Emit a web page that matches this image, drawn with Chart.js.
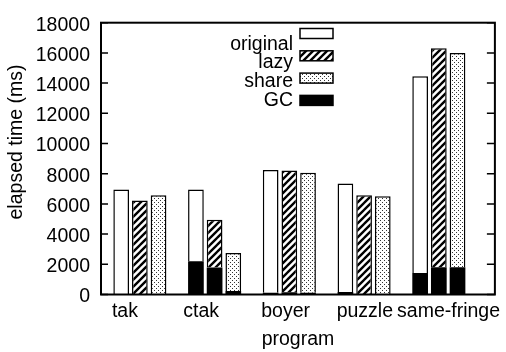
<!DOCTYPE html>
<html><head><meta charset="utf-8">
<script src="https://cdn.jsdelivr.net/npm/chart.js@4"></script>
<style>html,body{margin:0;padding:0;background:#fff}#wrap{width:506px;height:352px}</style>
</head><body><div id="wrap"><canvas id="c" width="506" height="352"></canvas></div>
<script>
// ---- data (ms) ----
const categories = ['tak', 'ctak', 'boyer', 'puzzle', 'same-fringe'];
const seriesNames = ['original', 'lazy', 'share'];
const originalTime = [6950, 6950, 8250, 7350, 14450];
const lazyTime     = [6230, 4950, 8210, 6570, 16300];
const shareTime    = [6570, 2750, 8060, 6500, 16000];
const gcOriginal   = [40, 2210, 120, 170, 1430];
const gcLazy       = [40, 1790, 150, 40, 1810];
const gcShare      = [40, 230, 120, 40, 1810];
const yTickValues  = [0, 2000, 4000, 6000, 8000, 10000, 12000, 14000, 16000, 18000];
const xTitle = 'program';
const yTitle = 'elapsed time (ms)';

// ---- style / layout constants ----
const FONT = '"Liberation Sans", Arial, sans-serif';
const FS = 19.5;
const labelShift = [-0.20, -0.18, -0.05, 0.01, 0.13];

const canvas = document.getElementById('c');
const ctx = canvas.getContext('2d');

function hatchPattern() {
  const s = 7, c = document.createElement('canvas');
  c.width = c.height = s;
  const g = c.getContext('2d');
  g.fillStyle = '#fff'; g.fillRect(0, 0, s, s);
  g.strokeStyle = '#000'; g.lineWidth = 2.4; g.lineCap = 'square';
  g.beginPath();
  for (const o of [-s, 0, s]) { g.moveTo(o, s); g.lineTo(o + s, 0); }
  g.stroke();
  return ctx.createPattern(c, 'repeat');
}
function dotPattern() {
  const s = 4, c = document.createElement('canvas');
  c.width = c.height = s;
  const g = c.getContext('2d');
  g.fillStyle = '#fff'; g.fillRect(0, 0, s, s);
  g.fillStyle = '#333';
  g.fillRect(0, 0, 1, 1); g.fillRect(2, 2, 1, 1);
  return ctx.createPattern(c, 'repeat');
}
const fills = { original: '#fff', lazy: hatchPattern(), share: dotPattern(), GC: '#000' };

const totals = { original: originalTime, lazy: lazyTime, share: shareTime };
const gcs = { original: gcOriginal, lazy: gcLazy, share: gcShare };
const pts = arr => arr.map((v, i) => ({ x: i, y: v }));

const datasets = [];
for (const name of seriesNames) {
  datasets.push({
    label: 'GC', stack: name, data: pts(gcs[name]),
    backgroundColor: fills.GC, borderColor: '#000', borderWidth: 0
  });
  datasets.push({
    label: name, stack: name,
    data: pts(totals[name].map((t, i) => t - gcs[name][i])),
    backgroundColor: fills[name], borderColor: '#000', borderWidth: 1.5
  });
}

const framePlugin = {
  id: 'frame',
  afterDatasetsDraw(chart) {
    const { left, right, top, bottom } = chart.chartArea;
    const c = chart.ctx, y = chart.scales.y;
    c.save();
    c.strokeStyle = '#000';
    c.lineWidth = 1.5;
    for (const t of y.ticks) {
      const py = y.getPixelForValue(t.value);
      c.beginPath();
      c.moveTo(left, py); c.lineTo(left + 7, py);
      c.moveTo(right, py); c.lineTo(right - 8, py);
      c.stroke();
    }
    c.lineWidth = 2;
    c.strokeRect(left, top, right - left, bottom - top);
    // y axis title
    c.translate(16.5, 142);
    c.rotate(-Math.PI / 2);
    c.font = FS + 'px ' + FONT;
    c.fillStyle = '#000';
    c.textAlign = 'center';
    c.textBaseline = 'middle';
    c.fillText(yTitle, 0, 0);
    c.restore();
  }
};

const legendPlugin = {
  id: 'keybox',
  afterDraw(chart) {
    const c = chart.ctx;
    const items = ['original', 'lazy', 'share', 'GC'];
    const textX = 293, boxX = 300, boxW = 33, boxH = 10;
    const base0 = 49.5, step = 18.9;
    const box0 = 33.5, boxStep = 22.3;
    c.save();
    c.font = FS + 'px ' + FONT;
    c.textAlign = 'right';
    c.textBaseline = 'alphabetic';
    items.forEach((name, i) => {
      c.fillStyle = '#000';
      c.fillText(name, textX, base0 + i * step);
      const cy = box0 + i * boxStep;
      c.fillStyle = fills[name];
      c.fillRect(boxX, cy - boxH / 2, boxW, boxH);
      c.strokeStyle = '#000'; c.lineWidth = 1.5;
      c.strokeRect(boxX, cy - boxH / 2, boxW, boxH);
    });
    c.restore();
  }
};

new Chart(ctx, {
  type: 'bar',
  data: { datasets },
  options: {
    responsive: false,
    animation: false,
    devicePixelRatio: 1,
    layout: { padding: { top: 10, right: 4, left: 0, bottom: 0 } },
    categoryPercentage: 0.75,
    barPercentage: 0.84,
    plugins: { legend: { display: false }, tooltip: { enabled: false } },
    scales: {
      x: {
        type: 'linear', min: -0.52, max: 4.75, offset: false,
        grid: { display: false, drawTicks: false }, border: { display: false },
        afterBuildTicks: s => { s.ticks = categories.map((c, i) => ({ value: i + labelShift[i] })); },
        afterFit: s => { s.height = 57.5; },
        ticks: {
          autoSkip: false, maxRotation: 0, padding: 5.5, color: '#000',
          font: { family: FONT, size: FS },
          callback: (v, i) => categories[i]
        },
        title: { display: true, text: xTitle, color: '#000', font: { family: FONT, size: FS }, padding: { top: 0, bottom: 1 } }
      },
      y: {
        stacked: true, min: 0, max: 18000,
        grid: { display: false, drawTicks: false }, border: { display: false },
        afterBuildTicks: s => { s.ticks = yTickValues.map(v => ({ value: v })); },
        afterFit: s => { s.width = 101; },
        ticks: { padding: 11, labelOffset: 2.5, color: '#000', font: { family: FONT, size: FS }, callback: v => String(v) },
        title: { display: false }
      }
    }
  },
  plugins: [framePlugin, legendPlugin]
});
</script></body></html>
